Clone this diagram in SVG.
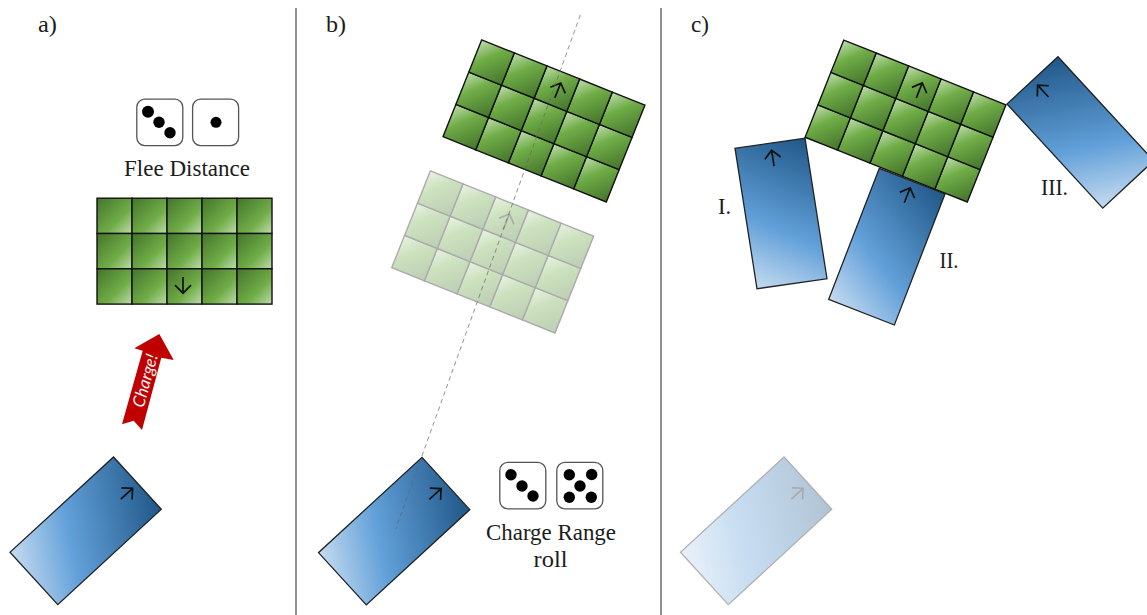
<svg xmlns="http://www.w3.org/2000/svg" xmlns:xlink="http://www.w3.org/1999/xlink" width="1147" height="615" viewBox="0 0 1147 615">
<style>
.t{font-family:"Liberation Serif",serif;font-size:22.5px;fill:#1c1c1c}
.cell{fill:url(#gg);stroke:#111;stroke-width:1.4}
.arr{fill:none;stroke:#111;stroke-width:1.7}
.die{fill:#fff;stroke:#555;stroke-width:1.3}
.pip{fill:#000}
.div{stroke:#555;stroke-width:1.3}
</style>
<defs>
<linearGradient id="gg" x1="0" y1="0" x2="1" y2="1">
<stop offset="0" stop-color="#44742c"/><stop offset=".62" stop-color="#70ad47"/><stop offset="1" stop-color="#bfdcae"/>
</linearGradient>
<linearGradient id="bg" gradientUnits="userSpaceOnUse" x1="0" y1="141" x2="80" y2="8">
<stop offset="0" stop-color="#c5dbf0"/><stop offset=".4" stop-color="#62a0d9"/><stop offset="1" stop-color="#22598a"/>
</linearGradient>
<g id="grid">
<rect class="cell" x="0" y="0" width="35" height="35.3"/><rect class="cell" x="35" y="0" width="35" height="35.3"/><rect class="cell" x="70" y="0" width="35" height="35.3"/><rect class="cell" x="105" y="0" width="35" height="35.3"/><rect class="cell" x="140" y="0" width="35" height="35.3"/>
<rect class="cell" x="0" y="35.3" width="35" height="35.3"/><rect class="cell" x="35" y="35.3" width="35" height="35.3"/><rect class="cell" x="70" y="35.3" width="35" height="35.3"/><rect class="cell" x="105" y="35.3" width="35" height="35.3"/><rect class="cell" x="140" y="35.3" width="35" height="35.3"/>
<rect class="cell" x="0" y="70.6" width="35" height="35.3"/><rect class="cell" x="35" y="70.6" width="35" height="35.3"/><rect class="cell" x="70" y="70.6" width="35" height="35.3"/><rect class="cell" x="105" y="70.6" width="35" height="35.3"/><rect class="cell" x="140" y="70.6" width="35" height="35.3"/>
<path class="arr" d="M86 78.7V95M78 87l8 8 8-8"/>
</g>
<g id="unit">
<rect x="0" y="0" width="71" height="141" fill="url(#bg)" stroke="#222" stroke-width="1.3"/>
<path class="arr" d="M36 23V7M28 15l8-8 8 8"/>
</g>
</defs>
<rect width="1147" height="615" fill="#fff"/>
<g id="dividers">
<line class="div" x1="296" y1="8" x2="296" y2="615"/>
<line class="div" x1="661" y1="8" x2="661" y2="615"/>
</g>
<g id="panel-a">
<text class="t" x="38" y="32" textLength="19" lengthAdjust="spacingAndGlyphs">a)</text>
<g id="a-dice">
<rect class="die" x="136.8" y="99.2" width="46" height="46.4" rx="8"/><circle class="pip" cx="148" cy="111.7" r="6"/><circle class="pip" cx="159" cy="122.3" r="5.7"/><circle class="pip" cx="170" cy="132.7" r="5.7"/>
<rect class="die" x="192.6" y="99.2" width="46" height="46.4" rx="8"/><circle class="pip" cx="216" cy="122.3" r="5.5"/>
</g>
<text class="t" x="124" y="176" textLength="126" lengthAdjust="spacingAndGlyphs">Flee Distance</text>
<use id="a-enemy" href="#grid" xlink:href="#grid" x="97" y="198.2"/>
<g id="a-charge">
<polygon points="159.3,334 173.7,360 161.3,357.7 142,430 133.7,420.7 122,424.3 142.7,350.7 134.3,348.3" fill="#c00000"/>
<text transform="translate(146.5,381) rotate(-74.5)" text-anchor="middle" dominant-baseline="middle" font-family="Lato,'Liberation Sans',sans-serif" font-style="italic" font-size="17" fill="#f2f2f2">Charge!</text>
</g>
<use id="a-unit" href="#unit" xlink:href="#unit" transform="matrix(.673 .737 -.734 .676 113.5 457)"/>
</g>
<g id="panel-b">
<text class="t" x="326" y="32" textLength="20" lengthAdjust="spacingAndGlyphs">b)</text>
<use id="b-unit" href="#unit" xlink:href="#unit" transform="matrix(.673 .737 -.734 .676 422 457.3)"/>
<use id="b-ghost" href="#grid" xlink:href="#grid" opacity=".35" transform="matrix(-.933 -.373 .365 -.915 555 333)"/>
<use id="b-enemy" href="#grid" xlink:href="#grid" transform="matrix(-.933 -.373 .365 -.915 606.3 202)"/>
<g id="b-dice">
<rect class="die" x="499.8" y="462.4" width="46" height="46.4" rx="8"/><circle class="pip" cx="511" cy="474.7" r="5.7"/><circle class="pip" cx="522" cy="486" r="5.7"/><circle class="pip" cx="533" cy="496" r="5.7"/>
<rect class="die" x="556.8" y="462.4" width="46" height="46.4" rx="8"/><circle class="pip" cx="569.3" cy="474.7" r="5.7"/><circle class="pip" cx="591.7" cy="474.5" r="5.7"/><circle class="pip" cx="580" cy="486" r="5.7"/><circle class="pip" cx="569.3" cy="497.3" r="5.7"/><circle class="pip" cx="591.3" cy="497.3" r="5.7"/>
</g>
<text class="t" x="486" y="540" textLength="130" lengthAdjust="spacingAndGlyphs">Charge Range</text>
<text class="t" x="533.5" y="567" textLength="34" lengthAdjust="spacingAndGlyphs">roll</text>
</g>
<g id="connectors">
<line x1="580.3" y1="15" x2="395.7" y2="529" stroke="#666" stroke-width="1" stroke-dasharray="4.5 3.5" opacity=".7"/>
</g>
<g id="panel-c">
<text class="t" x="691" y="32" textLength="18" lengthAdjust="spacingAndGlyphs">c)</text>
<use id="c-origin" href="#unit" xlink:href="#unit" opacity=".35" transform="matrix(.673 .737 -.734 .676 784 457)"/>
<use id="c-unit-1" href="#unit" xlink:href="#unit" transform="matrix(.986 -.141 .156 .996 735 148.3)"/>
<use id="c-unit-2" href="#unit" xlink:href="#unit" transform="matrix(.925 .362 -.359 .929 879.3 168.3)"/>
<use id="c-unit-3" href="#unit" xlink:href="#unit" transform="matrix(.718 -.666 .679 .738 1007 104)"/>
<use id="c-enemy" href="#grid" xlink:href="#grid" transform="matrix(-.927 -.37 .365 -.918 967.3 202)"/>
<text class="t" x="718" y="214" textLength="13" lengthAdjust="spacingAndGlyphs">I.</text>
<text class="t" x="939.5" y="268" textLength="19" lengthAdjust="spacingAndGlyphs">II.</text>
<text class="t" x="1041" y="195" textLength="27" lengthAdjust="spacingAndGlyphs">III.</text>
</g>
</svg>
